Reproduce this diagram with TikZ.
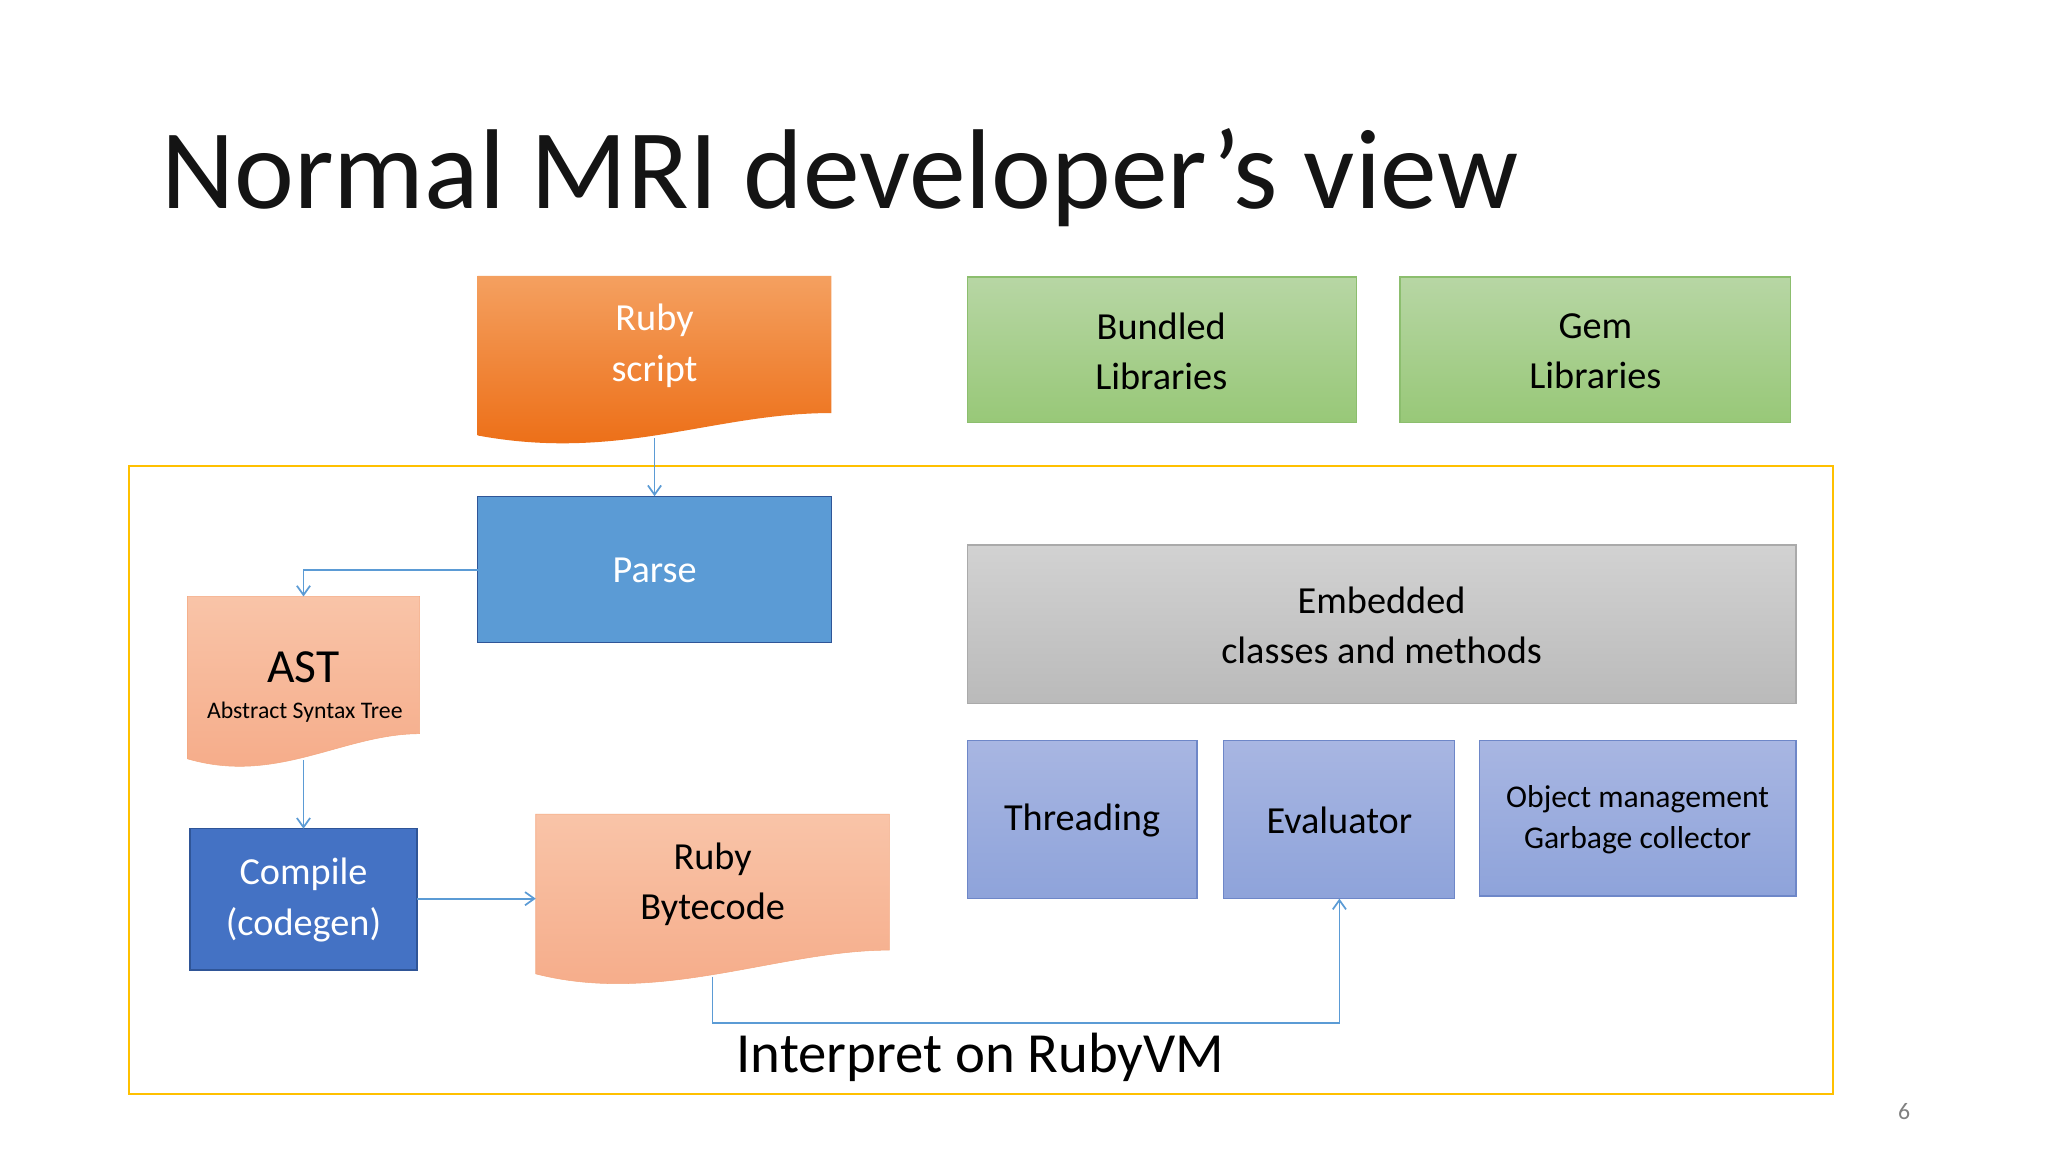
\documentclass[tikz,border=0pt]{standalone}
\usepackage{fontspec}
\setmainfont{Carlito}
\usetikzlibrary{arrows.meta}
\definecolor{pblue}{RGB}{91,155,213}
\begin{document}
\begin{tikzpicture}[x=1pt,y=-1pt,
  conn/.style={draw=pblue, line width=1.3pt, -{Straight Barb[length=7pt,width=10pt]}},
  lbl/.style={font=\fontsize{29}{38}\selectfont, align=center},
  box/.style={line width=1pt}]
\useasboundingbox (0,0) rectangle (1552,873);
\fill[white] (0,0) rectangle (1552,873);
\node[anchor=base west, font=\fontsize{86}{96}\selectfont, inner sep=0, text={rgb,255:red,20;green,20;blue,20}] (title) at (122,158) {Normal MRI developer’s view};
% yellow frame
\draw[color={rgb,255:red,255;green,192;blue,0}, line width=1.5pt] (98,353) rectangle (1389,829);
% Ruby script
\shade[top color={rgb,255:red,244;green,160;blue,96}, bottom color={rgb,255:red,236;green,106;blue,16}]
  (362,209) -- (630,209) -- (630,313) .. controls (540,313) and (470,350) .. (362,330) -- cycle;
\node[lbl, text=white] (script) at (496,262) {Ruby\\script};
\coordinate (sb) at (496,332);
% Bundled / Gem
\shade[box, draw={rgb,255:red,140;green,190;blue,110}, top color={rgb,255:red,183;green,214;blue,164}, bottom color={rgb,255:red,152;green,200;blue,120}] (733,210) rectangle (1028,320);
\node[lbl] (bundled) at (880,266) {Bundled\\Libraries};
\shade[box, draw={rgb,255:red,140;green,190;blue,110}, top color={rgb,255:red,183;green,214;blue,164}, bottom color={rgb,255:red,152;green,200;blue,120}] (1061,210) rectangle (1357,320);
\node[lbl] (gem) at (1209,266) {Gem\\Libraries};
% Parse
\draw[box, draw={rgb,255:red,47;green,85;blue,151}, fill=pblue] (362,376) rectangle (630,487);
\node[lbl, text=white] (parse) at (496,432) {Parse};
% AST
\shade[draw={rgb,255:red,244;green,168;blue,128}, top color={rgb,255:red,249;green,196;blue,168}, bottom color={rgb,255:red,245;green,170;blue,135}]
  (142,452) -- (318,452) -- (318,556) .. controls (260,556) and (210,595) .. (142,575) -- cycle;
\node[font=\fontsize{36}{40}\selectfont] (ast) at (230,506) {AST};
\node[font=\fontsize{18}{20}\selectfont] (astsub) at (231,540) {Abstract Syntax Tree};
\coordinate (astb) at (230,576);
% Compile
\draw[box, draw={rgb,255:red,47;green,85;blue,151}, fill={rgb,255:red,68;green,114;blue,196}] (144,628) rectangle (316,735);
\node[lbl, text=white] (compile) at (230,682) {Compile\\(codegen)};
% Bytecode
\shade[draw={rgb,255:red,244;green,168;blue,128}, top color={rgb,255:red,249;green,196;blue,168}, bottom color={rgb,255:red,245;green,170;blue,135}]
  (406,617) -- (674,617) -- (674,720) .. controls (590,720) and (500,762) .. (406,738) -- cycle;
\node[lbl] (bytecode) at (540,670) {Ruby\\Bytecode};
\coordinate (bb) at (540,740);
% Embedded
\shade[box, draw={rgb,255:red,170;green,170;blue,170}, top color={rgb,255:red,210;green,210;blue,210}, bottom color={rgb,255:red,186;green,186;blue,186}] (733,413) rectangle (1361,533);
\node[lbl] (embedded) at (1047,474) {Embedded\\classes and methods};
% purple boxes
\tikzset{pbox/.style={box, draw={rgb,255:red,110;green,135;blue,200}, top color={rgb,255:red,168;green,182;blue,226}, bottom color={rgb,255:red,142;green,163;blue,218}}}
\shade[pbox] (733,561) rectangle (907,681);
\node[lbl] (threading) at (820,622) {Threading};
\shade[pbox] (927,561) rectangle (1102,681);
\node[lbl] (evaluator) at (1015,622) {Evaluator};
\coordinate (evb) at (1015,681);
\shade[pbox] (1121,561) rectangle (1361,679);
\node[font=\fontsize{24}{31}\selectfont, align=center] (objmgmt) at (1241,621) {Object management\\Garbage collector};
% connectors
\draw[conn] (sb) -- (496,376);
\draw[conn] (362,432) -| (230,452);
\draw[conn] (astb) -- (230,628);
\draw[conn] (316,681) -- (406,681);
\draw[conn] (bb) |- (1015,775) -- (evb);
\node[font=\fontsize{43}{50}\selectfont, anchor=base] (interp) at (743,813) {Interpret on RubyVM};
\node[font=\fontsize{18}{20}\selectfont, text=gray] (pg) at (1443,842) {6};
\end{tikzpicture}
\end{document}
